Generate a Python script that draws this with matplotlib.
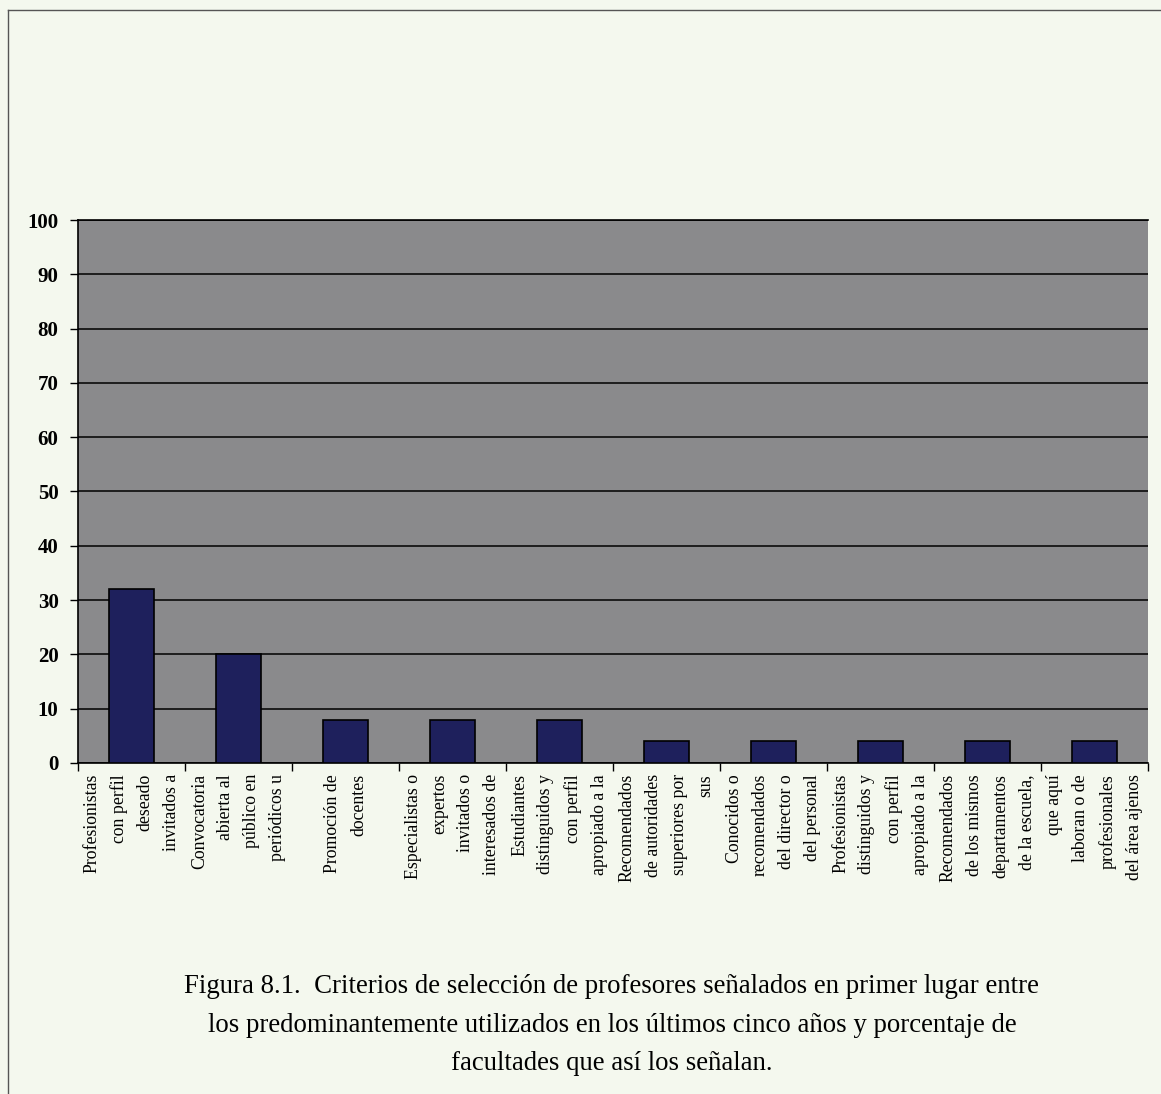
import numpy as np
import matplotlib.pyplot as plt
from matplotlib.lines import Line2D

criterios = [
    "Profesionistas\ncon perfil\ndeseado\ninvitados a",
    "Convocatoria\nabierta al\npúblico en\nperiódicos u",
    "Promoción de\ndocentes",
    "Especialistas o\nexpertos\ninvitados o\ninteresados de",
    "Estudiantes\ndistinguidos y\ncon perfil\napropiado a la",
    "Recomendados\nde autoridades\nsuperiores por\nsus",
    "Conocidos o\nrecomendados\ndel director o\ndel personal",
    "Profesionistas\ndistinguidos y\ncon perfil\napropiado a la",
    "Recomendados\nde los mismos\ndepartamentos\nde la escuela,",
    "que aquí\nlaboran o de\nprofesionales\ndel área ajenos",
]
porcentaje = [32, 20, 8, 8, 8, 4, 4, 4, 4, 4]
yticks = [0, 10, 20, 30, 40, 50, 60, 70, 80, 90, 100]

caption = ("Figura 8.1.  Criterios de selección de profesores señalados en primer lugar entre\n"
           "los predominantemente utilizados en los últimos cinco años y porcentaje de\n"
           "facultades que así los señalan.")

plt.rcParams['font.family'] = ['Liberation Serif', 'DejaVu Serif']

fig = plt.figure(figsize=(11.61, 10.94), dpi=100)
fig.patch.set_facecolor('#f4f8ee')

ax = fig.add_axes([0.0672, 0.3026, 0.9216, 0.4963])
ax.set_facecolor('#8a8a8c')

x = np.arange(len(porcentaje))
ax.bar(x, porcentaje, width=0.42, color='#1e205c', edgecolor='black', linewidth=1.2, zorder=3)

ax.set_ylim(0, 100)
ax.set_xlim(-0.5, len(porcentaje) - 0.5)
ax.set_yticks(yticks)
ax.set_yticklabels([str(v) for v in yticks], fontsize=15, fontweight='bold')
ax.yaxis.grid(True, color='black', linewidth=1.1, zorder=1)
ax.set_axisbelow(True)

# marcas entre categorias y etiquetas al centro
ax.set_xticks(np.arange(-0.5, len(porcentaje), 1.0))
ax.set_xticklabels([])
ax.set_xticks(x, minor=True)
ax.set_xticklabels(criterios, minor=True, rotation=90, fontsize=12.8,
                   va='top', ha='center', multialignment='right', linespacing=1.7)
ax.tick_params(axis='x', which='minor', length=0, pad=8)
ax.tick_params(axis='x', which='major', length=6, width=1, direction='out')
ax.tick_params(axis='y', length=6, width=1, direction='out', pad=8)

ax.spines['right'].set_visible(False)
for s in ['left', 'bottom', 'top']:
    ax.spines[s].set_color('black')
    ax.spines[s].set_linewidth(1.2)

fig.text(0.527, 0.063, caption, fontsize=19.3, ha='center', va='center', linespacing=1.71)

# marco de la pagina
fig.add_artist(Line2D([0.007, 0.007], [0.0, 0.991], color='#555555', linewidth=1.0))
fig.add_artist(Line2D([0.007, 1.0], [0.991, 0.991], color='#555555', linewidth=1.0))

fig.savefig('out.png', dpi=100, facecolor=fig.get_facecolor())
